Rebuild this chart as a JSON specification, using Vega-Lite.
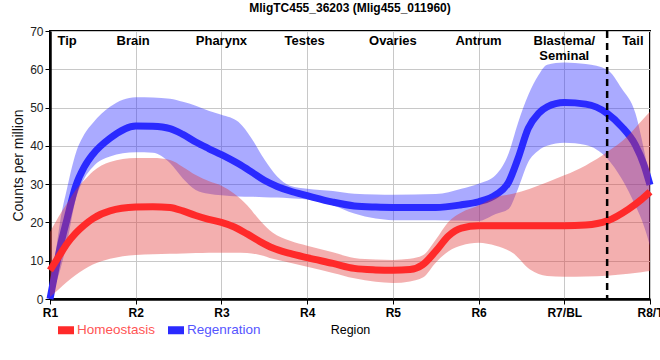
{
  "$schema": "https://vega.github.io/schema/vega-lite/v6.json",
  "autosize": "none",
  "width": 600,
  "height": 268,
  "padding": {"left": 50, "top": 31, "right": 10, "bottom": 61},
  "background": "white",
  "title": {"text": "MligTC455_36203 (Mlig455_011960)", "font": "Liberation Sans", "fontSize": 12, "fontWeight": "bold", "color": "#000", "anchor": "middle", "frame": "group", "offset": 10},
  "config": {
    "view": {"stroke": "black", "strokeWidth": 2},
    "axis": {"gridColor": "#c8c8c8", "gridWidth": 1, "domainColor": "black", "domainWidth": 2.5, "tickColor": "black", "tickSize": 5}
  },
  "datasets": {
    "curves": [
      {"s": "Homeostasis", "x": 1.0, "y": 7.5, "lo": 0.5, "hi": 17.5},
      {"s": "Homeostasis", "x": 1.1, "y": 11, "lo": 2.5, "hi": 21.5},
      {"s": "Homeostasis", "x": 1.2, "y": 14.5, "lo": 4.5, "hi": 25},
      {"s": "Homeostasis", "x": 1.3, "y": 17.2, "lo": 6.3, "hi": 28.5},
      {"s": "Homeostasis", "x": 1.4, "y": 19.3, "lo": 7.8, "hi": 31},
      {"s": "Homeostasis", "x": 1.5, "y": 21, "lo": 9, "hi": 33.3},
      {"s": "Homeostasis", "x": 1.7, "y": 23, "lo": 10.5, "hi": 35.8},
      {"s": "Homeostasis", "x": 2.0, "y": 24, "lo": 11.5, "hi": 36.8},
      {"s": "Homeostasis", "x": 2.2, "y": 24.1, "lo": 11.7, "hi": 36.8},
      {"s": "Homeostasis", "x": 2.4, "y": 23.9, "lo": 11.8, "hi": 36.3},
      {"s": "Homeostasis", "x": 2.55, "y": 23, "lo": 11.9, "hi": 34.5},
      {"s": "Homeostasis", "x": 2.7, "y": 21.8, "lo": 12, "hi": 32.4},
      {"s": "Homeostasis", "x": 2.85, "y": 20.8, "lo": 12.1, "hi": 30.8},
      {"s": "Homeostasis", "x": 3.0, "y": 20, "lo": 12.1, "hi": 29.6},
      {"s": "Homeostasis", "x": 3.15, "y": 18.8, "lo": 12.1, "hi": 27.5},
      {"s": "Homeostasis", "x": 3.3, "y": 17, "lo": 12, "hi": 24.5},
      {"s": "Homeostasis", "x": 3.45, "y": 15, "lo": 11.5, "hi": 20.5},
      {"s": "Homeostasis", "x": 3.6, "y": 13.3, "lo": 10.5, "hi": 17.3},
      {"s": "Homeostasis", "x": 3.8, "y": 11.9, "lo": 9.5, "hi": 15.2},
      {"s": "Homeostasis", "x": 4.0, "y": 10.8, "lo": 8.4, "hi": 13.9},
      {"s": "Homeostasis", "x": 4.3, "y": 9.3, "lo": 6.8, "hi": 12.2},
      {"s": "Homeostasis", "x": 4.55, "y": 8, "lo": 5.4, "hi": 10.7},
      {"s": "Homeostasis", "x": 4.8, "y": 7.6, "lo": 4.5, "hi": 10.3},
      {"s": "Homeostasis", "x": 5.0, "y": 7.5, "lo": 4.2, "hi": 10.2},
      {"s": "Homeostasis", "x": 5.2, "y": 7.7, "lo": 4.6, "hi": 10.5},
      {"s": "Homeostasis", "x": 5.35, "y": 9, "lo": 5.6, "hi": 11.4},
      {"s": "Homeostasis", "x": 5.5, "y": 12.5, "lo": 9.5, "hi": 15.5},
      {"s": "Homeostasis", "x": 5.65, "y": 16.5, "lo": 12.5, "hi": 20.2},
      {"s": "Homeostasis", "x": 5.8, "y": 18.5, "lo": 14, "hi": 22.6},
      {"s": "Homeostasis", "x": 6.0, "y": 19.1, "lo": 14.7, "hi": 24.4},
      {"s": "Homeostasis", "x": 6.2, "y": 19.1, "lo": 13.9, "hi": 26.5},
      {"s": "Homeostasis", "x": 6.4, "y": 19.1, "lo": 12, "hi": 27.5},
      {"s": "Homeostasis", "x": 6.6, "y": 19.1, "lo": 7.7, "hi": 28.8},
      {"s": "Homeostasis", "x": 6.8, "y": 19.1, "lo": 6, "hi": 30.5},
      {"s": "Homeostasis", "x": 7.0, "y": 19.1, "lo": 5.8, "hi": 32.3},
      {"s": "Homeostasis", "x": 7.25, "y": 19.3, "lo": 5.9, "hi": 34.9},
      {"s": "Homeostasis", "x": 7.5, "y": 20.4, "lo": 6.1, "hi": 38.4},
      {"s": "Homeostasis", "x": 7.75, "y": 23.5, "lo": 6.6, "hi": 42.8},
      {"s": "Homeostasis", "x": 7.9, "y": 26, "lo": 7, "hi": 46.5},
      {"s": "Homeostasis", "x": 8.0, "y": 28, "lo": 7.3, "hi": 48.9},
      {"s": "Regenration", "x": 1.0, "y": 0, "lo": 0, "hi": 1.5},
      {"s": "Regenration", "x": 1.06, "y": 7, "lo": 3.5, "hi": 11},
      {"s": "Regenration", "x": 1.12, "y": 13.7, "lo": 7.7, "hi": 20.5},
      {"s": "Regenration", "x": 1.2, "y": 21, "lo": 15, "hi": 29},
      {"s": "Regenration", "x": 1.3, "y": 29.5, "lo": 26, "hi": 38},
      {"s": "Regenration", "x": 1.4, "y": 34.5, "lo": 31.5, "hi": 43},
      {"s": "Regenration", "x": 1.5, "y": 37.8, "lo": 34.5, "hi": 46},
      {"s": "Regenration", "x": 1.7, "y": 42, "lo": 37.2, "hi": 50.2},
      {"s": "Regenration", "x": 2.0, "y": 45.2, "lo": 38.3, "hi": 52.7},
      {"s": "Regenration", "x": 2.2, "y": 45.1, "lo": 38.2, "hi": 52.6},
      {"s": "Regenration", "x": 2.4, "y": 44.5, "lo": 35.5, "hi": 52.3},
      {"s": "Regenration", "x": 2.55, "y": 43, "lo": 31.5, "hi": 51.5},
      {"s": "Regenration", "x": 2.7, "y": 41, "lo": 28.5, "hi": 50.5},
      {"s": "Regenration", "x": 2.85, "y": 39.3, "lo": 27.5, "hi": 49.2},
      {"s": "Regenration", "x": 3.0, "y": 37.7, "lo": 27.1, "hi": 48.1},
      {"s": "Regenration", "x": 3.2, "y": 35.3, "lo": 26.8, "hi": 46.2},
      {"s": "Regenration", "x": 3.35, "y": 33.2, "lo": 26.7, "hi": 42},
      {"s": "Regenration", "x": 3.5, "y": 31, "lo": 26.6, "hi": 36.5},
      {"s": "Regenration", "x": 3.65, "y": 29.4, "lo": 26.5, "hi": 32},
      {"s": "Regenration", "x": 3.8, "y": 28.2, "lo": 26.3, "hi": 29.6},
      {"s": "Regenration", "x": 4.0, "y": 27, "lo": 26, "hi": 28.8},
      {"s": "Regenration", "x": 4.3, "y": 25.3, "lo": 24.5, "hi": 28.2},
      {"s": "Regenration", "x": 4.55, "y": 24.3, "lo": 22.3, "hi": 27.5},
      {"s": "Regenration", "x": 4.8, "y": 24, "lo": 21, "hi": 27.3},
      {"s": "Regenration", "x": 5.0, "y": 23.9, "lo": 20.6, "hi": 27.2},
      {"s": "Regenration", "x": 5.5, "y": 23.9, "lo": 20.6, "hi": 27.4},
      {"s": "Regenration", "x": 5.8, "y": 24.6, "lo": 20.5, "hi": 28.8},
      {"s": "Regenration", "x": 6.0, "y": 25.4, "lo": 20.4, "hi": 30.1},
      {"s": "Regenration", "x": 6.2, "y": 27.2, "lo": 22.2, "hi": 32.4},
      {"s": "Regenration", "x": 6.35, "y": 30.5, "lo": 23.5, "hi": 38},
      {"s": "Regenration", "x": 6.46, "y": 36.7, "lo": 28.8, "hi": 46},
      {"s": "Regenration", "x": 6.58, "y": 44.6, "lo": 35.8, "hi": 53.3},
      {"s": "Regenration", "x": 6.7, "y": 48.5, "lo": 38.8, "hi": 58.5},
      {"s": "Regenration", "x": 6.8, "y": 50.2, "lo": 40, "hi": 61.2},
      {"s": "Regenration", "x": 7.0, "y": 51.3, "lo": 40.8, "hi": 61.8},
      {"s": "Regenration", "x": 7.25, "y": 50.9, "lo": 40.2, "hi": 61.4},
      {"s": "Regenration", "x": 7.5, "y": 48.5, "lo": 36.7, "hi": 59.9},
      {"s": "Regenration", "x": 7.67, "y": 45, "lo": 31.4, "hi": 55},
      {"s": "Regenration", "x": 7.83, "y": 40.2, "lo": 24.4, "hi": 48.5},
      {"s": "Regenration", "x": 7.93, "y": 35, "lo": 19, "hi": 39},
      {"s": "Regenration", "x": 8.0, "y": 29.8, "lo": 13.9, "hi": 31}
    ],
    "regions": [
      {"label": "Tip", "x": 1.2, "y": 67.5},
      {"label": "Brain", "x": 1.97, "y": 67.5},
      {"label": "Pharynx", "x": 3.0, "y": 67.5},
      {"label": "Testes", "x": 3.97, "y": 67.5},
      {"label": "Ovaries", "x": 5.0, "y": 67.5},
      {"label": "Antrum", "x": 6.0, "y": 67.5},
      {"label": "Blastema/|Seminal", "x": 7.0, "y": 67.5},
      {"label": "Tail", "x": 7.8, "y": 67.5}
    ],
    "divider": [{"x": 7.5}]
  },
  "encoding": {
    "x": {"field": "x", "type": "quantitative", "scale": {"domain": [1, 8], "nice": false, "zero": false},
      "axis": {"values": [1, 2, 3, 4, 5, 6, 7, 8], "labelExpr": "['R1','R2','R3','R4','R5','R6','R7/BL','R8/T'][datum.value - 1]", "labelFont": "Liberation Sans", "labelFontWeight": "bold", "labelFontSize": 12, "labelColor": "#000", "labelPadding": 3, "title": "Region", "titleFont": "Liberation Sans", "titleFontWeight": "normal", "titleFontSize": 12.5, "titleColor": "#000", "titlePadding": 5, "labelFlush": false, "labelOverlap": false}},
    "y": {"type": "quantitative", "scale": {"domain": [0, 70], "nice": false},
      "axis": {"values": [0, 10, 20, 30, 40, 50, 60, 70], "title": "Counts per million", "titleFont": "Liberation Sans", "titleFontWeight": "normal", "titleFontSize": 14, "titleColor": "#111", "titlePadding": 4, "labelFont": "Liberation Sans", "labelFontSize": 12, "labelColor": "#222", "labelPadding": 2}}
  },
  "layer": [
    {
      "data": {"name": "curves"},
      "transform": [{"filter": "datum.s == 'Regenration'"}],
      "mark": {"type": "area", "opacity": 0.4, "interpolate": "monotone"},
      "encoding": {"y": {"field": "lo"}, "y2": {"field": "hi"},
        "color": {"field": "s", "type": "nominal", "scale": {"domain": ["Homeostasis", "Regenration"], "range": ["#ff2a2a", "#2a2aff"]}}}
    },
    {
      "data": {"name": "curves"},
      "transform": [{"filter": "datum.s == 'Regenration'"}],
      "mark": {"type": "line", "strokeWidth": 7, "interpolate": "monotone", "strokeCap": "butt"},
      "encoding": {"y": {"field": "y"}, "color": {"field": "s", "type": "nominal"}}
    },
    {
      "data": {"name": "curves"},
      "transform": [{"filter": "datum.s == 'Homeostasis'"}],
      "mark": {"type": "area", "opacity": 0.4, "interpolate": "monotone", "color": "#e03838"},
      "encoding": {"y": {"field": "lo"}, "y2": {"field": "hi"}}
    },
    {
      "data": {"name": "curves"},
      "transform": [{"filter": "datum.s == 'Homeostasis'"}],
      "mark": {"type": "line", "strokeWidth": 7, "interpolate": "monotone", "strokeCap": "butt"},
      "encoding": {"y": {"field": "y"}, "color": {"field": "s", "type": "nominal",
        "legend": {"orient": "none", "legendX": 8, "legendY": 291, "direction": "horizontal", "title": null,
          "symbolType": "M-1,-0.5H1V0.5H-1Z", "symbolSize": 256, "symbolStrokeWidth": 0, "symbolOpacity": 1,
          "labelFont": "Liberation Sans", "labelFontSize": 13.5, "labelOffset": 3, "columnPadding": 12,
          "encode": {"symbols": {"update": {"fill": {"signal": "datum.value == 'Homeostasis' ? '#ff3333' : '#3333ff'"}, "strokeWidth": {"value": 0}, "opacity": {"value": 1}}},
            "labels": {"update": {"fill": {"signal": "datum.value == 'Homeostasis' ? '#ff5555' : '#5555ff'"}}}}}}}
    },
    {
      "data": {"name": "divider"},
      "mark": {"type": "rule", "color": "black", "strokeWidth": 2.5, "strokeDash": [7, 5]},
      "encoding": {"y": {"value": 0}, "y2": {"value": 268}}
    },
    {
      "data": {"name": "regions"},
      "mark": {"type": "text", "font": "Liberation Sans", "fontWeight": "bold", "fontSize": 13, "color": "#000", "lineBreak": "|", "baseline": "middle", "lineHeight": 15},
      "encoding": {"y": {"field": "y"}, "text": {"field": "label"}}
    }
  ]
}
